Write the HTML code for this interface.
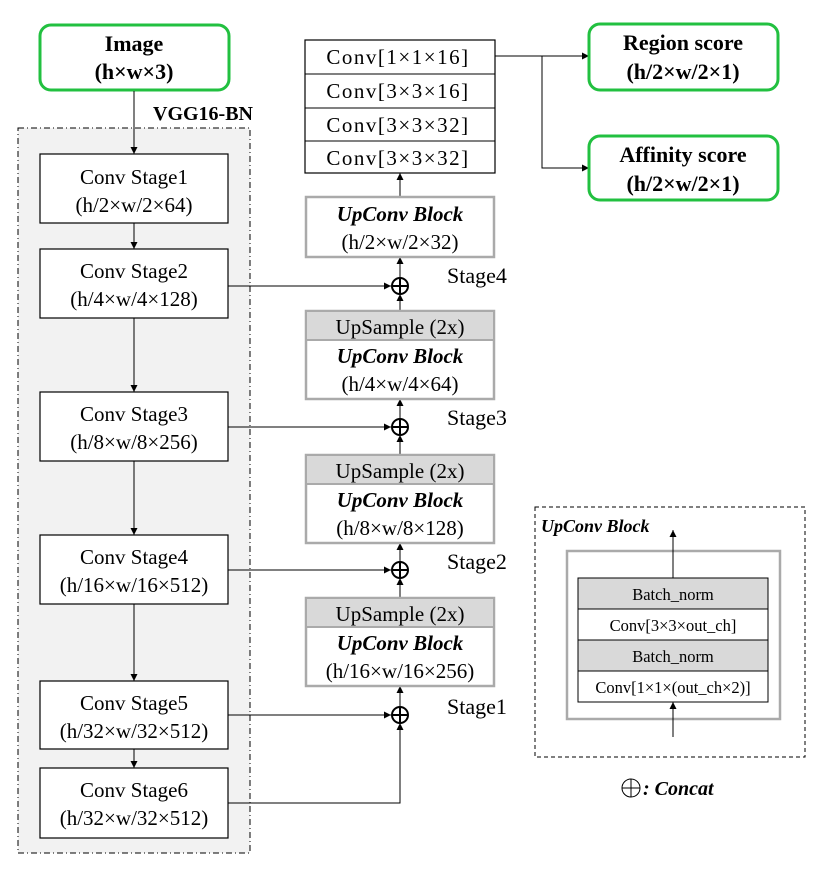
<!DOCTYPE html>
<html><head><meta charset="utf-8"><style>
html,body{margin:0;padding:0;background:#fff}
svg{display:block}
text{font-family:"Liberation Serif",serif;fill:#000}
.b{font-weight:bold}
.bi{font-weight:bold;font-style:italic}
</style></head><body>
<svg width="820" height="876" viewBox="0 0 820 876" xmlns="http://www.w3.org/2000/svg">
<defs>
<marker id="a" viewBox="0 0 10 10" refX="10" refY="5" markerWidth="7" markerHeight="7" orient="auto-start-reverse" markerUnits="userSpaceOnUse"><path d="M0,0 L10,5 L0,10 z" fill="#000"/></marker>
</defs>
<rect x="18" y="128" width="232" height="725" fill="#f2f2f2" stroke="#000" stroke-width="1" stroke-dasharray="6,3,1,3"/>
<text x="203" y="120" font-size="20" class="b" text-anchor="middle">VGG16-BN</text>
<rect x="40" y="25" width="189" height="65" rx="11" fill="#fff" stroke="#22c040" stroke-width="3"/>
<text x="134" y="51" font-size="22" class="b" text-anchor="middle">Image</text>
<text x="134" y="79" font-size="22" class="b" text-anchor="middle">(h×w×3)</text>
<line x1="134" y1="91" x2="134" y2="154" stroke="#000" marker-end="url(#a)"/>
<g font-size="21" text-anchor="middle">
<rect x="40" y="154" width="188" height="69" fill="#fff" stroke="#000" stroke-width="1.2"/>
<text x="134" y="184">Conv Stage1</text><text x="134" y="212">(h/2×w/2×64)</text>
<rect x="40" y="249" width="188" height="69" fill="#fff" stroke="#000" stroke-width="1.2"/>
<text x="134" y="278">Conv Stage2</text><text x="134" y="306">(h/4×w/4×128)</text>
<rect x="40" y="392" width="188" height="69" fill="#fff" stroke="#000" stroke-width="1.2"/>
<text x="134" y="421">Conv Stage3</text><text x="134" y="449">(h/8×w/8×256)</text>
<rect x="40" y="535" width="188" height="69" fill="#fff" stroke="#000" stroke-width="1.2"/>
<text x="134" y="564">Conv Stage4</text><text x="134" y="592">(h/16×w/16×512)</text>
<rect x="40" y="681" width="188" height="68" fill="#fff" stroke="#000" stroke-width="1.2"/>
<text x="134" y="710">Conv Stage5</text><text x="134" y="738">(h/32×w/32×512)</text>
<rect x="40" y="768" width="188" height="70" fill="#fff" stroke="#000" stroke-width="1.2"/>
<text x="134" y="797">Conv Stage6</text><text x="134" y="825">(h/32×w/32×512)</text>
</g>
<g stroke="#000" stroke-width="1">
<line x1="134" y1="223" x2="134" y2="249" marker-end="url(#a)"/>
<line x1="134" y1="318" x2="134" y2="392" marker-end="url(#a)"/>
<line x1="134" y1="461" x2="134" y2="535" marker-end="url(#a)"/>
<line x1="134" y1="604" x2="134" y2="681" marker-end="url(#a)"/>
<line x1="134" y1="749" x2="134" y2="768" marker-end="url(#a)"/>
<line x1="228" y1="286" x2="391" y2="286" marker-end="url(#a)"/>
<line x1="228" y1="427" x2="391" y2="427" marker-end="url(#a)"/>
<line x1="228" y1="570" x2="391" y2="570" marker-end="url(#a)"/>
<line x1="228" y1="715" x2="391" y2="715" marker-end="url(#a)"/>
<polyline points="228,803 400,803 400,723" fill="none" marker-end="url(#a)"/>
<line x1="400" y1="686" x2="400" y2="707" marker-start="url(#a)"/>
<line x1="400" y1="543" x2="400" y2="562" marker-start="url(#a)"/>
<line x1="400" y1="399" x2="400" y2="419" marker-start="url(#a)"/>
<line x1="400" y1="257" x2="400" y2="278" marker-start="url(#a)"/>
<line x1="400" y1="197" x2="400" y2="173" marker-end="url(#a)"/>
<line x1="400" y1="312" x2="400" y2="294" marker-end="url(#a)"/>
<line x1="400" y1="455" x2="400" y2="435" marker-end="url(#a)"/>
<line x1="400" y1="598" x2="400" y2="578" marker-end="url(#a)"/>
</g>
<g fill="#fff" stroke="#000" stroke-width="2">
<circle cx="400" cy="286" r="8"/><path d="M392,286h16M400,278v16"/>
<circle cx="400" cy="427" r="8"/><path d="M392,427h16M400,419v16"/>
<circle cx="400" cy="570" r="8"/><path d="M392,570h16M400,562v16"/>
<circle cx="400" cy="715" r="8"/><path d="M392,715h16M400,707v16"/>
</g>
<g font-size="22">
<text x="447" y="283">Stage4</text>
<text x="447" y="425">Stage3</text>
<text x="447" y="569">Stage2</text>
<text x="447" y="714">Stage1</text>
</g>
<g font-size="21" text-anchor="middle">
<rect x="305" y="40" width="190" height="133" fill="#fff" stroke="#000" stroke-width="1.2"/>
<line x1="305" y1="74" x2="495" y2="74" stroke="#000"/>
<line x1="305" y1="108" x2="495" y2="108" stroke="#000"/>
<line x1="305" y1="141" x2="495" y2="141" stroke="#000"/>
<text x="398" y="64" letter-spacing="1.5">Conv[1×1×16]</text>
<text x="398" y="98" letter-spacing="1.5">Conv[3×3×16]</text>
<text x="398" y="132" letter-spacing="1.5">Conv[3×3×32]</text>
<text x="398" y="165" letter-spacing="1.5">Conv[3×3×32]</text>
<rect x="306" y="197" width="188" height="60" fill="#fff" stroke="#aaa" stroke-width="2.5"/>
<text x="400" y="221" class="bi">UpConv Block</text>
<text x="400" y="249">(h/2×w/2×32)</text>
<rect x="306" y="311" width="188" height="88" fill="#fff" stroke="#aaa" stroke-width="2.5"/>
<rect x="307" y="312" width="186" height="28" fill="#d9d9d9"/>
<line x1="306" y1="340" x2="494" y2="340" stroke="#aaa" stroke-width="2"/>
<text x="400" y="334">UpSample (2x)</text>
<text x="400" y="363" class="bi">UpConv Block</text>
<text x="400" y="391">(h/4×w/4×64)</text>
<rect x="306" y="455" width="188" height="88" fill="#fff" stroke="#aaa" stroke-width="2.5"/>
<rect x="307" y="456" width="186" height="28" fill="#d9d9d9"/>
<line x1="306" y1="484" x2="494" y2="484" stroke="#aaa" stroke-width="2"/>
<text x="400" y="478">UpSample (2x)</text>
<text x="400" y="507" class="bi">UpConv Block</text>
<text x="400" y="535">(h/8×w/8×128)</text>
<rect x="306" y="598" width="188" height="88" fill="#fff" stroke="#aaa" stroke-width="2.5"/>
<rect x="307" y="599" width="186" height="28" fill="#d9d9d9"/>
<line x1="306" y1="627" x2="494" y2="627" stroke="#aaa" stroke-width="2"/>
<text x="400" y="621">UpSample (2x)</text>
<text x="400" y="650" class="bi">UpConv Block</text>
<text x="400" y="678">(h/16×w/16×256)</text>
</g>
<g stroke="#000" stroke-width="1" fill="none">
<line x1="495" y1="56" x2="589" y2="56" marker-end="url(#a)"/>
<polyline points="542,56 542,168 589,168" marker-end="url(#a)"/>
</g>
<rect x="589" y="24" width="189" height="66" rx="11" fill="#fff" stroke="#22c040" stroke-width="3"/>
<text x="683" y="50" font-size="22" class="b" text-anchor="middle">Region score</text>
<text x="683" y="79" font-size="22" class="b" text-anchor="middle">(h/2×w/2×1)</text>
<rect x="589" y="136" width="189" height="64" rx="11" fill="#fff" stroke="#22c040" stroke-width="3"/>
<text x="683" y="162" font-size="22" class="b" text-anchor="middle">Affinity score</text>
<text x="683" y="191" font-size="22" class="b" text-anchor="middle">(h/2×w/2×1)</text>
<rect x="535" y="507" width="270" height="250" fill="#fff" stroke="#000" stroke-width="1" stroke-dasharray="4,3"/>
<text x="541" y="532" font-size="18" class="bi">UpConv Block</text>
<rect x="567" y="551" width="213" height="168" fill="#fff" stroke="#aaa" stroke-width="2.5"/>
<g font-size="16.5" text-anchor="middle">
<rect x="578" y="578" width="190" height="31" fill="#d9d9d9" stroke="#000"/>
<rect x="578" y="609" width="190" height="31" fill="#fff" stroke="#000"/>
<rect x="578" y="640" width="190" height="31" fill="#d9d9d9" stroke="#000"/>
<rect x="578" y="671" width="190" height="31" fill="#fff" stroke="#000"/>
<text x="673" y="600">Batch_norm</text>
<text x="673" y="631">Conv[3×3×out_ch]</text>
<text x="673" y="662">Batch_norm</text>
<text x="673" y="693">Conv[1×1×(out_ch×2)]</text>
</g>
<g stroke="#000" stroke-width="1">
<line x1="673" y1="578" x2="673" y2="530" marker-end="url(#a)"/>
<line x1="673" y1="737" x2="673" y2="702" marker-end="url(#a)"/>
</g>
<circle cx="631" cy="788" r="9" fill="none" stroke="#000" stroke-width="1"/>
<path d="M622,788h18M631,779v18" stroke="#000" stroke-width="1"/>
<text x="643" y="795" font-size="20" class="bi">: Concat</text>
</svg>
</body></html>
